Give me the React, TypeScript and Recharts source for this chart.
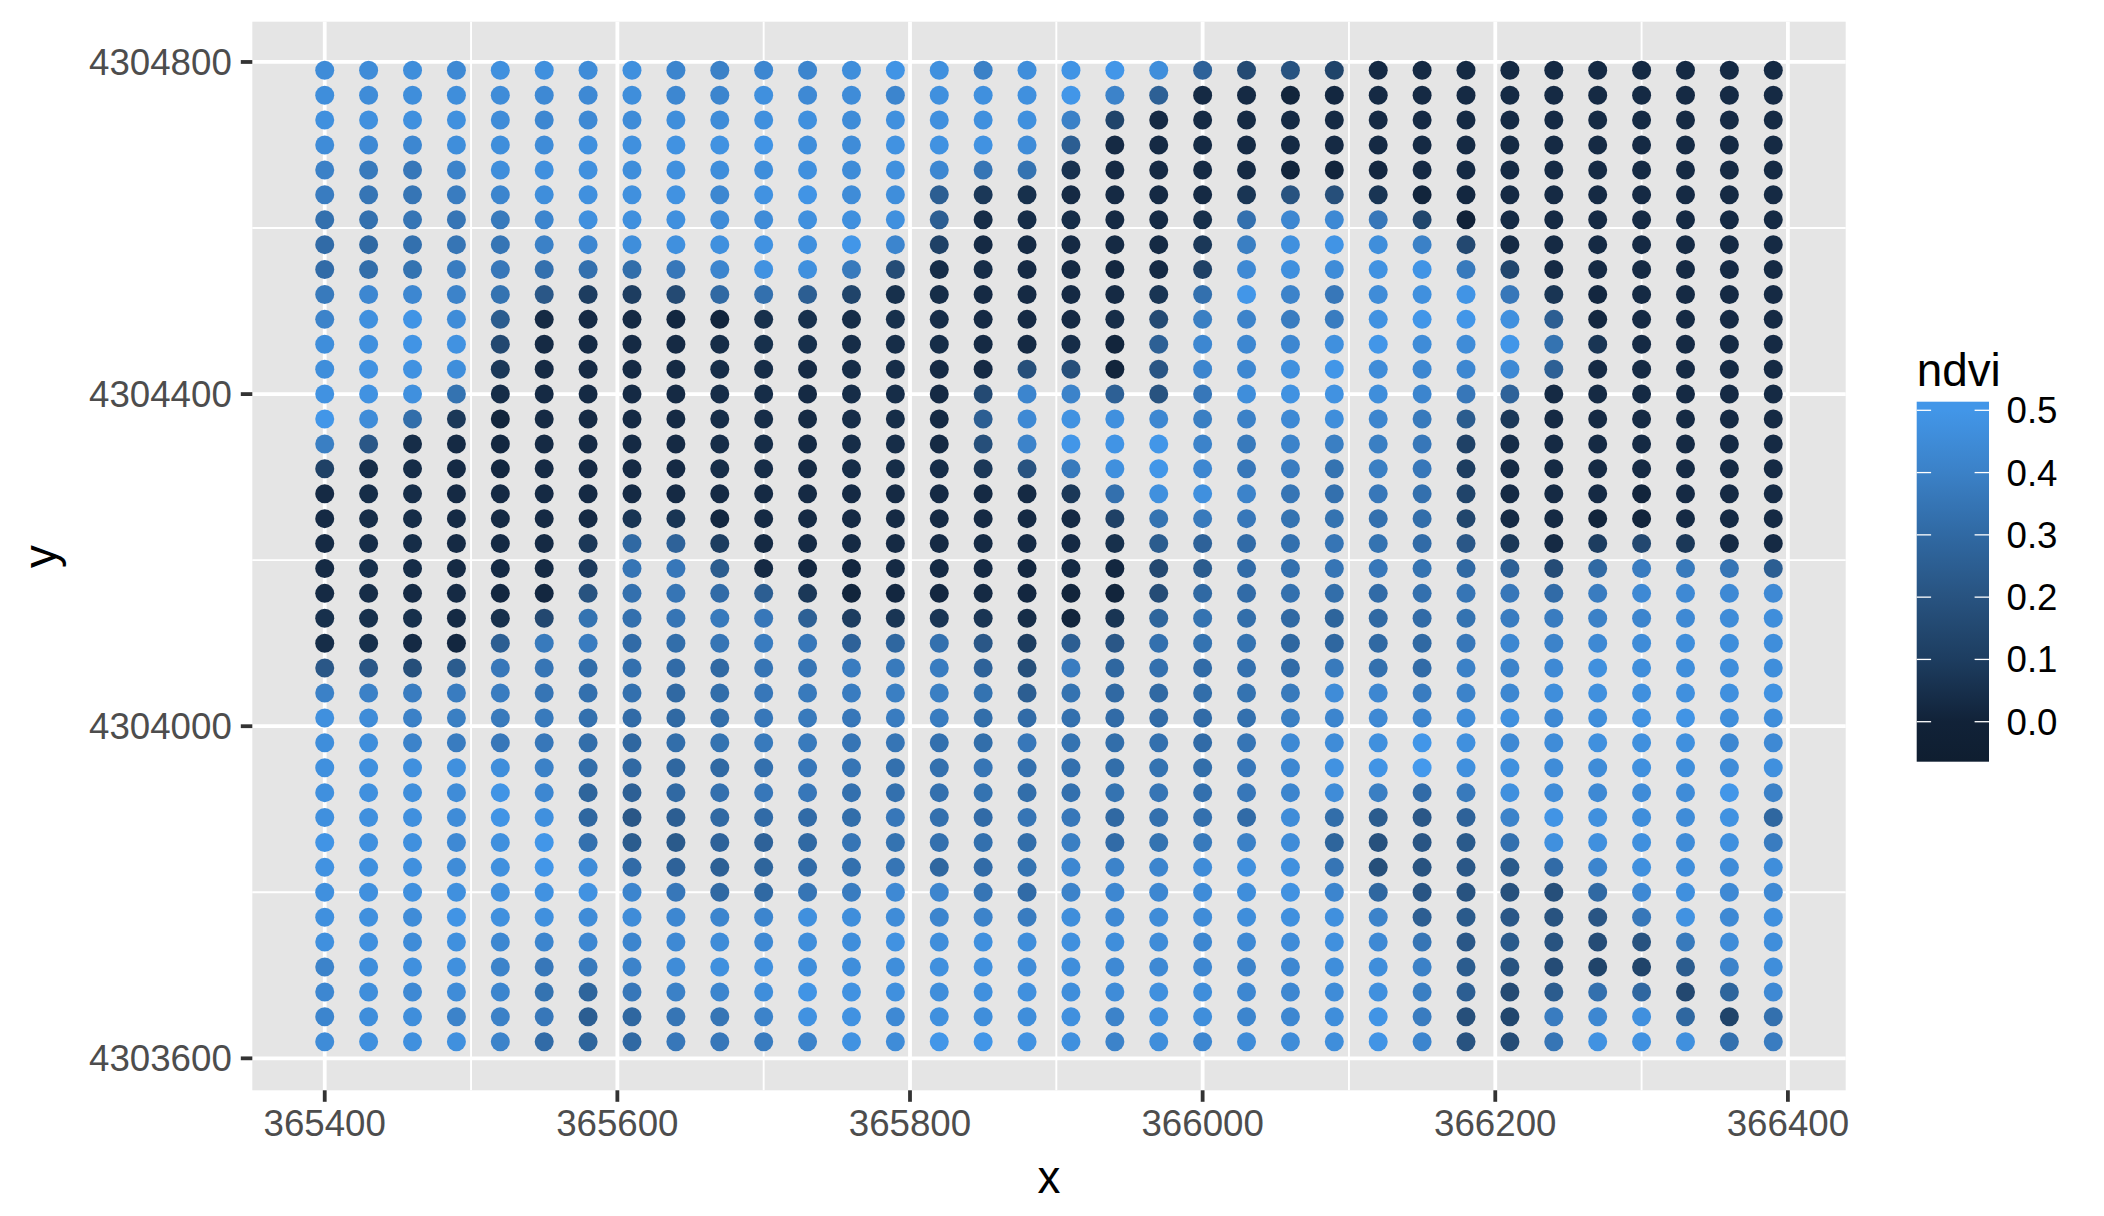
import React from "react";
import { ScatterChart, Scatter, XAxis, YAxis, CartesianGrid } from "recharts";

const xValues = [365400,365430,365460,365490,365520,365550,365580,365610,365640,365670,365700,365730,365760,365790,365820,365850,365880,365910,365940,365970,366000,366030,366060,366090,366120,366150,366180,366210,366240,366270,366300,366330,366360,366390];
const yValues = [4304790,4304760,4304730,4304700,4304670,4304640,4304610,4304580,4304550,4304520,4304490,4304460,4304430,4304400,4304370,4304340,4304310,4304280,4304250,4304220,4304190,4304160,4304130,4304100,4304070,4304040,4304010,4303980,4303950,4303920,4303890,4303860,4303830,4303800,4303770,4303740,4303710,4303680,4303650,4303620];
const xMajorTicks = [365400,365600,365800,366000,366200,366400];
const xMinorTicks = [365500,365700,365900,366100,366300];
const yMajorTicks = [4303600,4304000,4304400,4304800];
const yMinorTicks = [4303800,4304200,4304600];
const legendTicks = [0,0.1,0.2,0.3,0.4,0.5];
const colorStops: [number,string][] = [[-0.064,"#0F1E30"],[0,"#112238"],[0.1,"#1D3D60"],[0.2,"#285380"],[0.3,"#3069A3"],[0.4,"#3B81C7"],[0.5,"#4296E8"],[0.52,"#459CF0"]];

// ndvi x 100, one row per y value, top to bottom
const ndviRows = [
[45,45,46,44,47,47,45,47,42,40,43,42,46,49,47,40,46,49,50,46,27,16,20,13,3,3,3,3,3,3,3,3,3,3],
[46,45,46,46,45,44,44,46,43,42,47,44,45,42,47,47,47,50,41,26,3,3,1,2,3,3,3,3,3,3,3,3,3,3],
[47,47,47,47,45,43,44,45,46,45,47,47,45,47,47,47,47,40,13,3,3,3,3,3,3,3,3,3,3,3,3,3,3,3],
[45,44,43,46,46,45,47,47,48,48,49,46,45,48,48,48,45,25,3,3,3,3,3,3,3,3,3,3,3,3,3,3,3,3],
[40,37,36,41,46,47,47,46,47,46,46,47,45,47,43,35,34,6,3,3,3,3,1,1,2,3,3,3,3,3,3,3,3,3],
[38,35,35,38,42,46,47,47,48,43,48,49,45,46,25,8,5,3,3,3,3,7,20,18,7,1,2,3,3,3,3,3,3,3],
[33,33,35,35,37,42,47,47,47,45,45,47,47,47,25,4,4,4,3,3,5,33,43,44,36,14,0,3,3,3,3,3,3,3],
[31,30,33,35,35,40,43,46,47,47,48,47,50,42,12,3,3,3,3,3,8,39,47,49,46,40,15,3,3,3,3,3,3,3],
[31,32,34,38,36,33,33,32,36,42,48,47,37,17,4,4,3,3,2,3,12,44,47,45,48,49,37,14,3,3,3,3,3,3],
[37,43,43,41,34,22,10,10,16,30,33,25,13,5,4,3,3,3,3,7,33,50,41,36,45,47,49,36,7,2,3,3,3,3],
[41,47,49,45,24,3,3,3,2,1,5,5,4,5,4,3,3,3,4,16,39,41,38,38,48,50,50,47,25,2,3,3,3,3],
[46,47,49,48,15,3,3,3,3,4,5,5,4,4,4,3,3,4,1,26,43,43,43,47,50,45,45,50,34,7,3,3,3,3],
[46,48,48,46,8,3,3,3,3,4,4,3,4,4,3,3,18,18,1,21,42,43,47,50,45,43,43,44,26,3,3,3,3,3],
[48,48,47,34,4,3,3,3,3,4,4,3,4,4,3,16,42,41,26,20,36,46,48,48,46,42,36,27,3,3,3,3,3,3],
[50,45,32,8,1,3,3,3,3,4,4,3,4,4,3,25,44,48,47,43,39,40,44,46,42,37,24,8,3,3,3,3,3,3],
[39,22,4,3,2,3,3,3,3,4,4,3,4,4,3,18,41,50,49,50,41,37,41,39,39,36,12,4,3,3,3,3,3,3],
[12,4,4,3,2,3,3,3,3,4,4,3,4,4,4,8,20,37,47,50,43,36,38,34,39,36,10,3,3,3,3,3,3,3],
[3,4,4,3,3,3,3,3,3,3,3,3,3,3,3,3,3,8,33,47,47,41,35,33,36,33,13,3,3,3,1,3,3,3],
[3,4,4,3,3,3,3,7,7,2,3,3,3,3,3,3,3,3,12,34,37,36,34,34,33,32,14,3,3,1,1,3,3,3],
[3,4,4,3,3,3,8,30,27,10,3,3,3,3,3,3,3,3,5,24,27,31,33,35,34,31,22,8,3,10,15,8,3,3],
[3,5,4,3,3,3,9,35,36,24,3,2,2,3,3,3,2,3,2,15,24,31,33,35,36,34,30,26,17,30,38,37,35,25],
[3,4,3,3,2,2,20,33,35,31,25,8,1,2,2,3,2,1,1,17,30,31,33,32,31,33,35,36,31,38,44,44,44,44],
[5,5,5,3,5,15,34,33,35,37,36,26,10,7,7,7,4,1,7,28,34,32,30,28,30,31,34,38,38,40,42,44,45,46],
[4,5,3,2,25,37,38,31,32,35,38,36,27,29,33,22,10,25,22,33,34,34,29,29,30,30,36,43,41,44,45,46,46,46],
[22,22,18,24,36,35,32,33,31,30,35,35,38,37,38,27,18,38,29,33,31,33,31,37,33,31,40,41,44,47,46,46,46,46],
[40,40,38,38,38,35,33,33,30,32,36,37,38,39,39,34,25,34,30,30,32,34,37,45,43,38,41,43,46,47,47,47,47,48],
[47,45,40,39,37,37,33,31,30,32,36,37,36,38,38,32,31,33,31,31,31,33,39,42,44,42,45,47,44,46,48,49,46,46],
[46,46,41,38,36,36,32,29,32,34,37,37,35,35,33,32,36,34,32,33,31,35,44,45,47,50,47,44,45,47,47,47,43,44],
[47,47,47,47,46,40,32,30,29,30,33,36,35,33,33,35,33,33,32,34,32,36,43,48,49,51,47,47,45,45,47,46,45,47],
[47,47,46,45,49,43,28,26,30,33,36,36,33,33,33,34,32,33,34,35,33,36,42,45,39,31,37,47,45,44,45,45,50,40],
[47,47,47,45,49,47,29,22,25,30,31,31,32,36,33,31,35,36,30,33,33,31,45,32,24,22,27,41,49,47,46,45,48,29],
[49,47,47,44,47,50,33,24,23,27,27,30,35,34,33,33,32,39,31,34,37,40,45,28,19,21,23,33,47,47,47,45,47,38],
[48,47,47,45,47,50,45,31,27,26,28,31,33,35,29,31,34,43,41,42,45,47,47,35,18,20,22,23,31,42,47,46,45,46],
[47,47,47,47,47,48,48,42,36,30,30,35,38,44,42,35,31,41,43,43,45,46,48,42,29,21,20,19,18,30,44,47,44,44],
[47,47,45,49,47,47,45,45,43,42,42,47,46,45,42,41,38,46,44,45,45,46,47,47,41,25,23,22,20,21,36,48,44,47],
[47,47,45,47,43,42,43,42,44,45,44,46,46,48,46,47,46,47,46,45,43,44,45,47,44,35,22,23,20,17,20,37,45,46],
[41,46,47,47,41,36,37,41,45,47,47,46,46,46,47,47,45,46,44,44,43,41,43,46,46,40,24,20,17,13,13,24,41,46],
[43,46,44,45,42,34,28,36,40,42,46,49,48,47,46,47,47,46,45,47,46,43,43,45,47,39,25,16,24,33,29,15,28,44],
[42,46,46,41,40,36,25,29,35,35,41,48,48,44,47,46,46,47,41,47,46,42,43,46,49,38,18,14,38,43,47,29,13,33],
[45,47,47,47,41,31,28,30,36,36,38,41,48,45,50,50,48,47,41,46,43,45,45,46,49,42,20,17,35,48,48,47,33,38],
];

const FONT = "'Liberation Sans', Arial, sans-serif";
const hex = (c: string) => [1, 3, 5].map((i) => parseInt(c.slice(i, i + 2), 16));
const colorOf = (v: number) => {
  for (let i = 1; i < colorStops.length; i++) {
    const [v1, c1] = colorStops[i];
    const [v0, c0] = colorStops[i - 1];
    if (v <= v1) {
      const t = Math.max(0, (v - v0) / (v1 - v0));
      const a = hex(c0), b = hex(c1);
      return `rgb(${a.map((x, k) => Math.round(x + (b[k] - x) * t)).join(",")})`;
    }
  }
  return colorStops[colorStops.length - 1][1];
};

const points = ndviRows.flatMap((row, r) =>
  row.map((n, c) => ({ x: xValues[c], y: yValues[r], ndvi: n / 100 }))
);

const Dot = (p: any) => <circle cx={p.cx} cy={p.cy} r={9.5} fill={colorOf(p.payload.ndvi)} />;

const barTop = 401.7, barBottom = 761.7, barLeft = 1916.7, barRight = 1989;
const legY = (v: number) => 721.7 - v * 622.8;

const ColorBar = () => (
  <g>
    <defs>
      <linearGradient id="ndviGrad" x1="0" y1="1" x2="0" y2="0">
        {colorStops.slice(0, 7).map(([v, c]) => (
          <stop key={v} offset={`${((legY(v) - barBottom) / (barTop - barBottom)) * 100}%`} stopColor={c} />
        ))}
        <stop offset="100%" stopColor="#4296E8" />
      </linearGradient>
    </defs>
    <text x={barLeft} y={386} fontFamily={FONT} fontSize={45.8} fill="#000">ndvi</text>
    <rect x={barLeft} y={barTop} width={barRight - barLeft} height={barBottom - barTop} fill="url(#ndviGrad)" />
    {legendTicks.map((v) => (
      <g key={v}>
        <line x1={barLeft} x2={barLeft + 14.4} y1={legY(v)} y2={legY(v)} stroke="#fff" strokeWidth={1.3} />
        <line x1={barRight - 14.4} x2={barRight} y1={legY(v)} y2={legY(v)} stroke="#fff" strokeWidth={1.3} />
        <text x={2006.5} y={legY(v) + 13} fontFamily={FONT} fontSize={36.67} fill="#000">{v.toFixed(1)}</text>
      </g>
    ))}
  </g>
);

const tickStyle = { fontFamily: FONT, fontSize: 36.67, fill: "#4D4D4D" };

export default function App() {
  return (
    <div style={{ position: "absolute", left: 0, top: 0, width: 2104, height: 1216, background: "#fff" }}>
      <ScatterChart width={2104} height={1216} margin={{ top: 21.7, right: 258.3, bottom: 0, left: 0 }}>
        <CartesianGrid fill="#E5E5E5" stroke="#FFFFFF" strokeWidth={1.9} horizontalValues={yMinorTicks} verticalValues={xMinorTicks} />
        <CartesianGrid stroke="#FFFFFF" strokeWidth={3.8} horizontalValues={yMajorTicks} verticalValues={xMajorTicks} />
        <XAxis
          type="number" dataKey="x" domain={[365350.5, 366439.5]} ticks={xMajorTicks} interval={0}
          height={125.7} axisLine={false} tickSize={11.5} tickMargin={8}
          tickLine={{ stroke: "#333333", strokeWidth: 3.8 }} tick={tickStyle}
          label={{ value: "x", position: "insideBottom", offset: 23, style: { fontFamily: FONT, fontSize: 45.8, fill: "#000" } }}
        />
        <YAxis
          type="number" dataKey="y" domain={[4303561.5, 4304848.5]} ticks={yMajorTicks} interval={0}
          width={252.3} axisLine={false} tickSize={11.5} tickMargin={9}
          tickLine={{ stroke: "#333333", strokeWidth: 3.8 }} tick={tickStyle}
          label={{ value: "y", angle: -90, position: "insideLeft", offset: 40, dy: 12, style: { fontFamily: FONT, fontSize: 45.8, fill: "#000" } }}
        />
        <Scatter data={points} shape={Dot} isAnimationActive={false} />
        <ColorBar />
      </ScatterChart>
    </div>
  );
}
